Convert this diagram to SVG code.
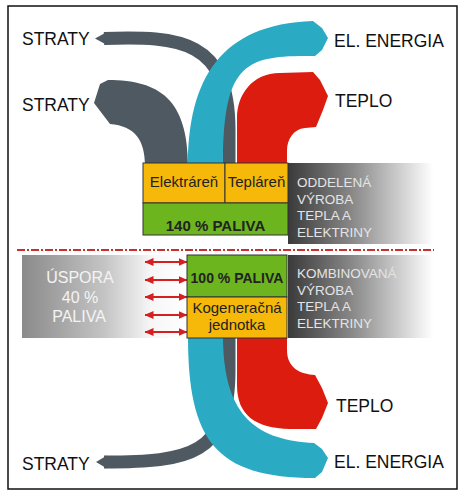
<svg xmlns="http://www.w3.org/2000/svg" width="468" height="501" viewBox="0 0 468 501">
<style>
.lbl{font-family:"Liberation Sans",Arial,sans-serif;font-size:17.5px;fill:#111}
.box{font-family:"Liberation Sans",Arial,sans-serif;font-size:15px;fill:#222;text-anchor:middle}
.bold{font-weight:bold}
.side{font-family:"Liberation Sans",Arial,sans-serif;font-size:13.5px;fill:#e4e4e4}
.usp{font-family:"Liberation Sans",Arial,sans-serif;font-size:16px;fill:#f4f4f4;text-anchor:middle}
.gray{fill:#4e5961}
.grayline{fill:none;stroke:#4e5961;stroke-width:13}
.blue{fill:#2aabc3}
.red{fill:#dc1c0e}
.yel{fill:#f6b90a;stroke:#333;stroke-width:1}
.grn{fill:#6cb51f;stroke:#333;stroke-width:1}
.dbl{stroke:#d42020;stroke-width:2;marker-start:url(#ah);marker-end:url(#ah)}
</style>
<defs>
<linearGradient id="gr" x1="0" y1="0" x2="1" y2="0">
<stop offset="0" stop-color="#3a3a3a"/>
<stop offset="0.45" stop-color="#8a8a8a"/>
<stop offset="1" stop-color="#ffffff"/>
</linearGradient>
<linearGradient id="gl" x1="0" y1="0" x2="1" y2="0">
<stop offset="0" stop-color="#8a8a8a"/>
<stop offset="0.5" stop-color="#c4c4c4"/>
<stop offset="0.78" stop-color="#f6f6f6"/>
<stop offset="1" stop-color="#ffffff"/>
</linearGradient>
<marker id="ah" viewBox="0 0 9 8" refX="8.5" refY="4" markerWidth="9" markerHeight="8" markerUnits="userSpaceOnUse" orient="auto-start-reverse">
<path d="M0,0 L9,4 L0,8 Z" fill="#d42020"/>
</marker>
</defs>
<rect x="0" y="0" width="468" height="501" fill="#fff"/>
<rect x="8" y="6" width="449" height="483" fill="#fff" stroke="#111" stroke-width="1.5"/>

<g id="savings">
<rect x="22" y="255" width="165" height="83" fill="url(#gl)"/>
<text class="usp" x="80" y="283">ÚSPORA</text>
<text class="usp" x="80" y="303">40 %</text>
<text class="usp" x="79" y="322">PALIVA</text>
</g>

<g id="connectors">
<g id="straty-top-flow">
<path class="grayline" d="M104,38.5 C180,36 229,40 229,130 L229,166"/>
<polygon class="gray" points="107,32 95,38.5 107,45"/>
</g>
<g id="straty-mid-flow">
<path class="gray" d="M108,80 C160,80 188,100 188,166 L145,166 C145,140 135,126 110,124 L94,103 L100,84 Z"/>
</g>
<g id="energia-top-flow">
<path class="blue" d="M188,166 C188,80 220,24 313,21 L322,28 L328,38 L322,50 L315,56 C245,55 223,62 223,166 Z"/>
</g>
<g id="teplo-top-flow">
<path class="red" d="M237,166 L237,118 C237,95 252,73 280,73 L313,72 L320,80 L328,96 L323,110 L316,127 L305,128 C293,129 287,140 287,150 L287,166 Z"/>
</g>
<g id="straty-bottom-flow">
<path class="grayline" d="M229,336 L229,370 C229,455 190,462 104,462"/>
<polygon class="gray" points="107,455.5 96,462 107,468.5"/>
</g>
<g id="energia-bottom-flow">
<path class="blue" d="M188,336 C188,440 215,478 315,478 L322,472 L328,458 L322,449 L314,443 C260,440 223,420 223,336 Z"/>
</g>
<g id="teplo-bottom-flow">
<path class="red" d="M237,336 L237,385 C237,415 255,428 290,429 L316,429 L322,418 L328,403 L322,388 L315,375 C300,374 287,368 287,350 L287,336 Z"/>
</g>
<g id="savings-arrows">
<line class="dbl" x1="145" y1="262" x2="187" y2="262"/>
<line class="dbl" x1="145" y1="280" x2="187" y2="280"/>
<line class="dbl" x1="145" y1="297" x2="187" y2="297"/>
<line class="dbl" x1="145" y1="315" x2="187" y2="315"/>
<line class="dbl" x1="145" y1="332" x2="187" y2="332"/>
</g>
</g>

<line x1="17" y1="250" x2="434" y2="250" stroke="#c83030" stroke-width="1.8" stroke-dasharray="8 2 2 2"/>

<g id="separate-label">
<rect x="288" y="163" width="145" height="81" fill="url(#gr)"/>
<text class="side" x="297" y="187">ODDELENÁ</text>
<text class="side" x="297" y="203.7">VÝROBA</text>
<text class="side" x="297" y="220.3">TEPLA A</text>
<text class="side" x="297" y="237">ELEKTRINY</text>
</g>

<g id="combined-label">
<rect x="288" y="255" width="145" height="83" fill="url(#gr)"/>
<text class="side" x="297" y="278">KOMBINOVANÁ</text>
<text class="side" x="297" y="294.5">VÝROBA</text>
<text class="side" x="297" y="311">TEPLA A</text>
<text class="side" x="297" y="327.5">ELEKTRINY</text>
</g>

<g id="elektraren">
<rect class="yel" x="143" y="163" width="82" height="40"/>
<text class="box" x="184" y="187">Elektráreň</text>
</g>
<g id="teplaren">
<rect class="yel" x="225" y="163" width="63" height="40"/>
<text class="box" x="256.5" y="187">Tepláreň</text>
</g>
<g id="paliva140">
<rect class="grn" x="143" y="203" width="145" height="32"/>
<text class="box bold" x="215.5" y="231">140 % PALIVA</text>
</g>
<g id="paliva100">
<rect class="grn" x="187" y="255" width="100" height="42"/>
<text class="box bold" x="237" y="283" style="font-size:14px">100 % PALIVA</text>
</g>
<g id="kogeneracna">
<rect class="yel" x="187" y="297" width="100" height="41"/>
<text class="box" x="237" y="313">Kogeneračná</text>
<text class="box" x="237" y="330">jednotka</text>
</g>

<g id="labels">
<text class="lbl" x="22" y="45">STRATY</text>
<text class="lbl" x="22" y="111">STRATY</text>
<text class="lbl" x="334" y="47">EL. ENERGIA</text>
<text class="lbl" x="335" y="107">TEPLO</text>
<text class="lbl" x="336" y="412">TEPLO</text>
<text class="lbl" x="334" y="468">EL. ENERGIA</text>
<text class="lbl" x="22" y="470">STRATY</text>
</g>
</svg>
